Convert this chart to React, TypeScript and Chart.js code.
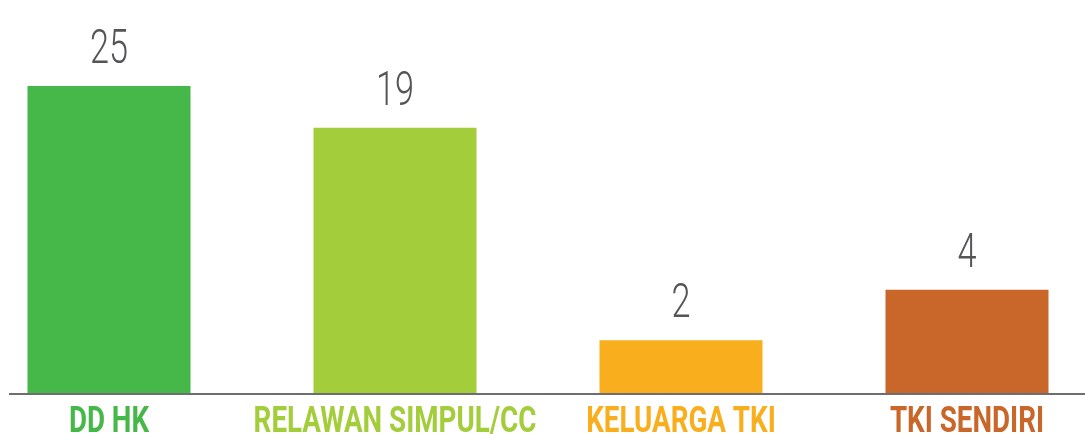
import React, { useEffect, useRef } from 'react';
import { Chart, registerables } from 'chart.js';

Chart.register(...registerables);

const categories = ['DD HK', 'RELAWAN SIMPUL/CC', 'KELUARGA TKI', 'TKI SENDIRI'];
// numbers printed above the bars
const counts = [25, 19, 2, 4];
// bar lengths as drawn in the picture (same units as the printed 25)
const barHeights = [25, 21.6, 4.3, 8.4];
const colors = ['#46B749', '#A4CD3C', '#F9AE1E', '#C96629'];

const labelPlugin = {
  id: 'infoLabels',
  afterDatasetsDraw(chart: any) {
    const ctx = chart.ctx as CanvasRenderingContext2D;
    const area = chart.chartArea;
    const meta = chart.getDatasetMeta(0);
    ctx.save();
    // baseline axis
    ctx.strokeStyle = '#6D6E71';
    ctx.lineWidth = 2;
    ctx.beginPath();
    ctx.moveTo(0, area.bottom + 1);
    ctx.lineTo(chart.width, area.bottom + 1);
    ctx.stroke();

    meta.data.forEach((bar: any, i: number) => {
      // value number
      ctx.save();
      ctx.translate(bar.x, bar.y - 23);
      ctx.scale(0.7, 1);
      ctx.font = '300 49px Roboto, "Liberation Sans", sans-serif';
      ctx.fillStyle = '#545557';
      ctx.textAlign = 'center';
      ctx.textBaseline = 'alphabetic';
      ctx.fillText(String(counts[i]), 0, 0);
      ctx.restore();

      // category label
      ctx.save();
      ctx.translate(bar.x, area.bottom + 39);
      ctx.scale(0.75, 1);
      ctx.font = 'bold 37px Roboto, "Liberation Sans", sans-serif';
      ctx.fillStyle = colors[i];
      ctx.textAlign = 'center';
      ctx.textBaseline = 'alphabetic';
      ctx.fillText(categories[i], 0, 0);
      ctx.restore();
    });
    ctx.restore();
  },
};

export default function App() {
  const ref = useRef<HTMLCanvasElement>(null);
  useEffect(() => {
    if (!ref.current) return;
    const chart = new Chart(ref.current, {
      type: 'bar',
      data: {
        labels: categories,
        datasets: [
          {
            data: barHeights,
            backgroundColor: colors,
            borderWidth: 0,
            categoryPercentage: 1,
            barPercentage: 0.57,
          },
        ],
      },
      options: {
        responsive: false,
        animation: false,
        layout: { padding: { top: 0, bottom: 41, left: 0, right: 0 } },
        plugins: { legend: { display: false }, tooltip: { enabled: false } },
        scales: {
          x: { display: false },
          y: { display: false, min: 0, max: 32 },
        },
      },
      plugins: [labelPlugin],
    });
    return () => chart.destroy();
  }, []);

  return (
    <div style={{ position: 'absolute', left: 9, top: 0, width: 1076, height: 434, overflow: 'hidden', background: '#fff' }}>
      <div style={{ position: 'absolute', left: -43, top: 0, width: 1144, height: 434 }}>
        <canvas ref={ref} width={1144} height={434} />
      </div>
    </div>
  );
}
